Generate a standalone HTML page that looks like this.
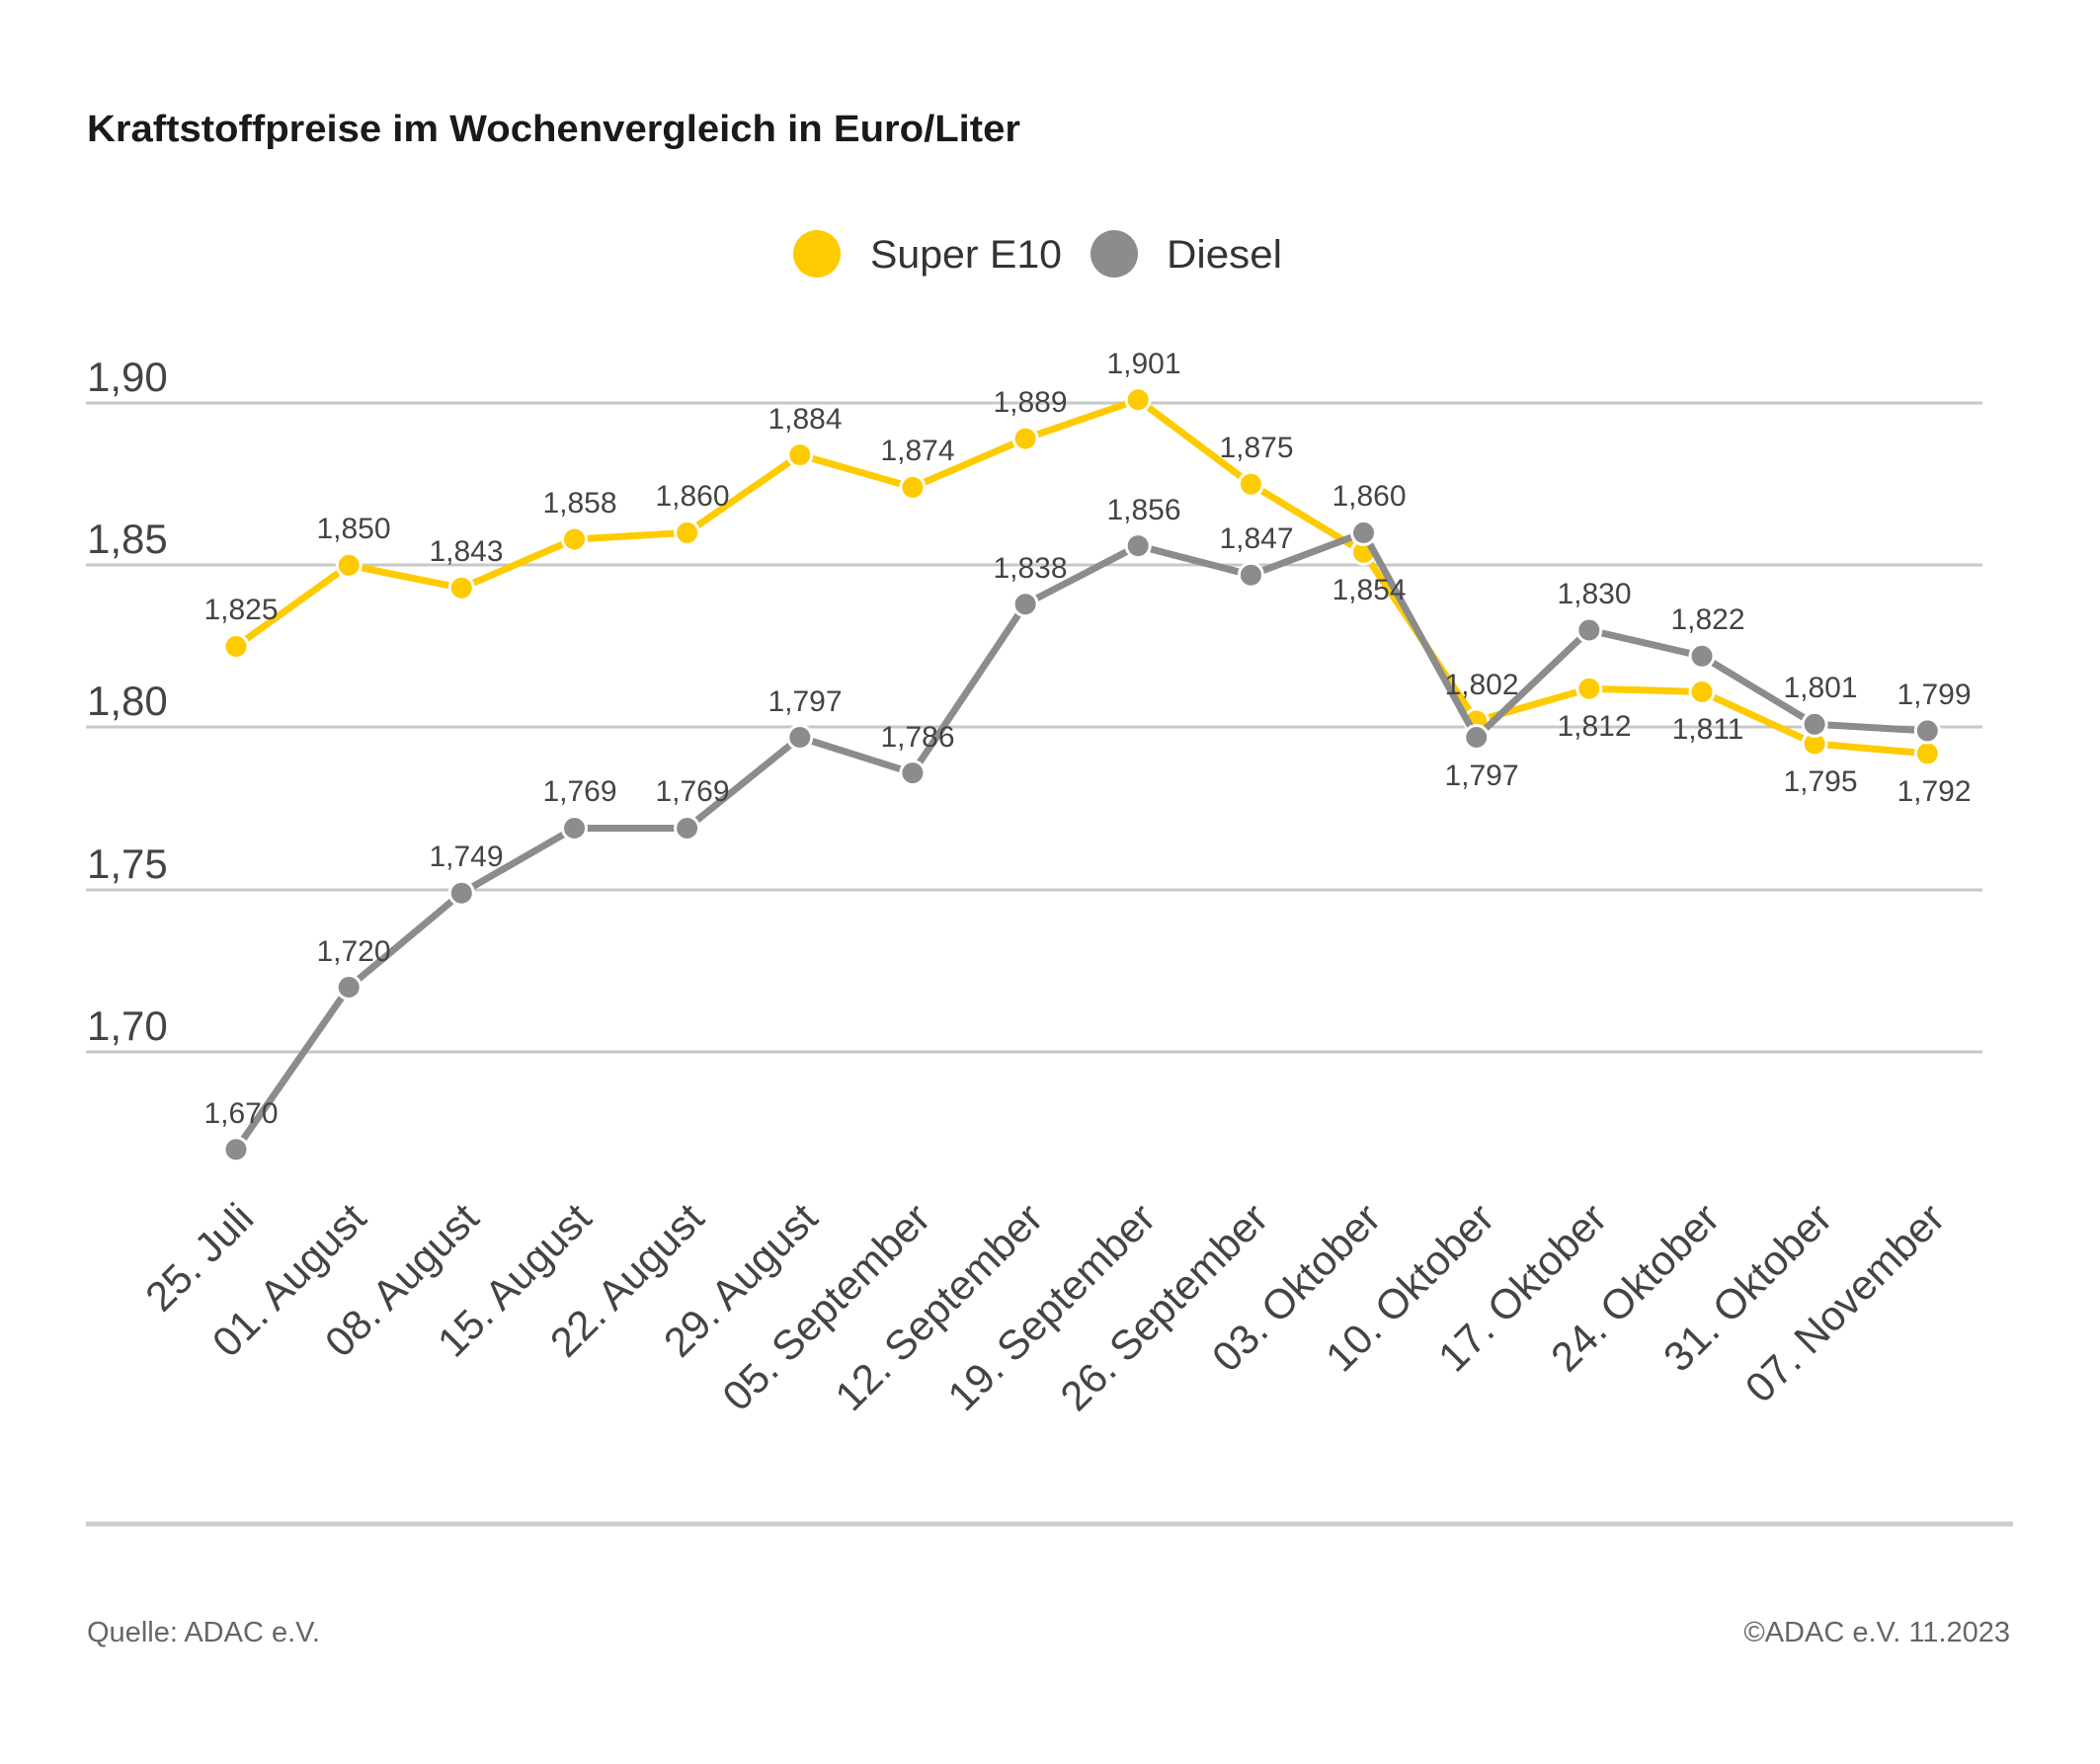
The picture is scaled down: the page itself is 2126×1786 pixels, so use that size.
<!DOCTYPE html>
<html><head><meta charset="utf-8"><style>
html,body{margin:0;padding:0;background:#fff}
svg{display:block}
text{font-family:"Liberation Sans",sans-serif}
</style></head><body>
<svg width="2126" height="1786" viewBox="0 0 2126 1786" xmlns="http://www.w3.org/2000/svg">
<rect width="2126" height="1786" fill="#fff"/>
<text x="88" y="143" font-size="38" font-weight="bold" fill="#1a1a1a" textLength="945" lengthAdjust="spacingAndGlyphs">Kraftstoffpreise im Wochenvergleich in Euro/Liter</text>
<circle cx="827" cy="257" r="24" fill="#fecb00"/>
<text x="881" y="271" font-size="40" fill="#333" textLength="194" lengthAdjust="spacingAndGlyphs">Super E10</text>
<circle cx="1128" cy="257" r="24" fill="#8c8c8c"/>
<text x="1181" y="271" font-size="40" fill="#333" textLength="117" lengthAdjust="spacingAndGlyphs">Diesel</text>
<g stroke="#c8c8c8" stroke-width="3">
<line x1="87" y1="408" x2="2007" y2="408"/>
<line x1="87" y1="572" x2="2007" y2="572"/>
<line x1="87" y1="736" x2="2007" y2="736"/>
<line x1="87" y1="901" x2="2007" y2="901"/>
<line x1="87" y1="1065" x2="2007" y2="1065"/>
</g>
<g font-size="42" fill="#444">
<text x="88" y="396">1,90</text>
<text x="88" y="560">1,85</text>
<text x="88" y="724">1,80</text>
<text x="88" y="889">1,75</text>
<text x="88" y="1053">1,70</text>
</g>
<polyline fill="none" stroke="#fecb00" stroke-width="7" stroke-linejoin="round" points="239,654.5 353.2,572.3 467.3,595.3 581.5,546 695.6,539.4 809.8,460.6 923.9,493.4 1038.1,444.1 1152.2,404.7 1266.4,490.2 1380.5,559.2 1494.7,730 1608.8,697.2 1723,700.5 1837.1,753 1951.3,762.9"/>
<g fill="#fecb00" stroke="#fff" stroke-width="3">
<circle cx="239" cy="654.5" r="12"/><circle cx="353.2" cy="572.3" r="12"/><circle cx="467.3" cy="595.3" r="12"/><circle cx="581.5" cy="546" r="12"/><circle cx="695.6" cy="539.4" r="12"/><circle cx="809.8" cy="460.6" r="12"/><circle cx="923.9" cy="493.4" r="12"/><circle cx="1038.1" cy="444.1" r="12"/><circle cx="1152.2" cy="404.7" r="12"/><circle cx="1266.4" cy="490.2" r="12"/><circle cx="1380.5" cy="559.2" r="12"/><circle cx="1494.7" cy="730" r="12"/><circle cx="1608.8" cy="697.2" r="12"/><circle cx="1723" cy="700.5" r="12"/><circle cx="1837.1" cy="753" r="12"/><circle cx="1951.3" cy="762.9" r="12"/>
</g>
<polyline fill="none" stroke="#8c8c8c" stroke-width="7" stroke-linejoin="round" points="239,1163.8 353.2,999.5 467.3,904.2 581.5,838.5 695.6,838.5 809.8,746.5 923.9,782.6 1038.1,611.7 1152.2,552.6 1266.4,582.2 1380.5,539.4 1494.7,746.5 1608.8,638 1723,664.3 1837.1,733.3 1951.3,739.9"/>
<g fill="#8c8c8c" stroke="#fff" stroke-width="3">
<circle cx="239" cy="1163.8" r="12"/><circle cx="353.2" cy="999.5" r="12"/><circle cx="467.3" cy="904.2" r="12"/><circle cx="581.5" cy="838.5" r="12"/><circle cx="695.6" cy="838.5" r="12"/><circle cx="809.8" cy="746.5" r="12"/><circle cx="923.9" cy="782.6" r="12"/><circle cx="1038.1" cy="611.7" r="12"/><circle cx="1152.2" cy="552.6" r="12"/><circle cx="1266.4" cy="582.2" r="12"/><circle cx="1380.5" cy="539.4" r="12"/><circle cx="1494.7" cy="746.5" r="12"/><circle cx="1608.8" cy="638" r="12"/><circle cx="1723" cy="664.3" r="12"/><circle cx="1837.1" cy="733.3" r="12"/><circle cx="1951.3" cy="739.9" r="12"/>
</g>
<g font-size="30" fill="#444" text-anchor="middle">
<text x="244" y="627">1,825</text>
<text x="358" y="545">1,850</text>
<text x="472" y="568">1,843</text>
<text x="587" y="519">1,858</text>
<text x="701" y="512">1,860</text>
<text x="815" y="434">1,884</text>
<text x="929" y="466">1,874</text>
<text x="1043" y="417">1,889</text>
<text x="1158" y="378">1,901</text>
<text x="1272" y="463">1,875</text>
<text x="1386" y="607">1,854</text>
<text x="1500" y="703">1,802</text>
<text x="1614" y="745">1,812</text>
<text x="1729" y="748">1,811</text>
<text x="1843" y="801">1,795</text>
<text x="1958" y="811">1,792</text>
<text x="244" y="1137">1,670</text>
<text x="358" y="973">1,720</text>
<text x="472" y="877">1,749</text>
<text x="587" y="811">1,769</text>
<text x="701" y="811">1,769</text>
<text x="815" y="720">1,797</text>
<text x="929" y="756">1,786</text>
<text x="1043" y="585">1,838</text>
<text x="1158" y="526">1,856</text>
<text x="1272" y="555">1,847</text>
<text x="1386" y="512">1,860</text>
<text x="1500" y="795">1,797</text>
<text x="1614" y="611">1,830</text>
<text x="1729" y="637">1,822</text>
<text x="1843" y="706">1,801</text>
<text x="1958" y="713">1,799</text>
</g>
<g font-size="42" fill="#444" text-anchor="end">
<text transform="translate(259,1236) rotate(-45)">25. Juli</text>
<text transform="translate(373,1236) rotate(-45)">01. August</text>
<text transform="translate(487,1236) rotate(-45)">08. August</text>
<text transform="translate(601,1236) rotate(-45)">15. August</text>
<text transform="translate(715,1236) rotate(-45)">22. August</text>
<text transform="translate(830,1236) rotate(-45)">29. August</text>
<text transform="translate(944,1236) rotate(-45)">05. September</text>
<text transform="translate(1058,1236) rotate(-45)">12. September</text>
<text transform="translate(1172,1236) rotate(-45)">19. September</text>
<text transform="translate(1286,1236) rotate(-45)">26. September</text>
<text transform="translate(1400,1236) rotate(-45)">03. Oktober</text>
<text transform="translate(1515,1236) rotate(-45)">10. Oktober</text>
<text transform="translate(1629,1236) rotate(-45)">17. Oktober</text>
<text transform="translate(1743,1236) rotate(-45)">24. Oktober</text>
<text transform="translate(1857,1236) rotate(-45)">31. Oktober</text>
<text transform="translate(1971,1236) rotate(-45)">07. November</text>
</g>
<line x1="87" y1="1543" x2="2038" y2="1543" stroke="#cccccc" stroke-width="5"/>
<text x="88" y="1662" font-size="29" fill="#666">Quelle: ADAC e.V.</text>
<text x="2035" y="1662" font-size="29" fill="#666" text-anchor="end">©ADAC e.V. 11.2023</text>
</svg>
</body></html>
